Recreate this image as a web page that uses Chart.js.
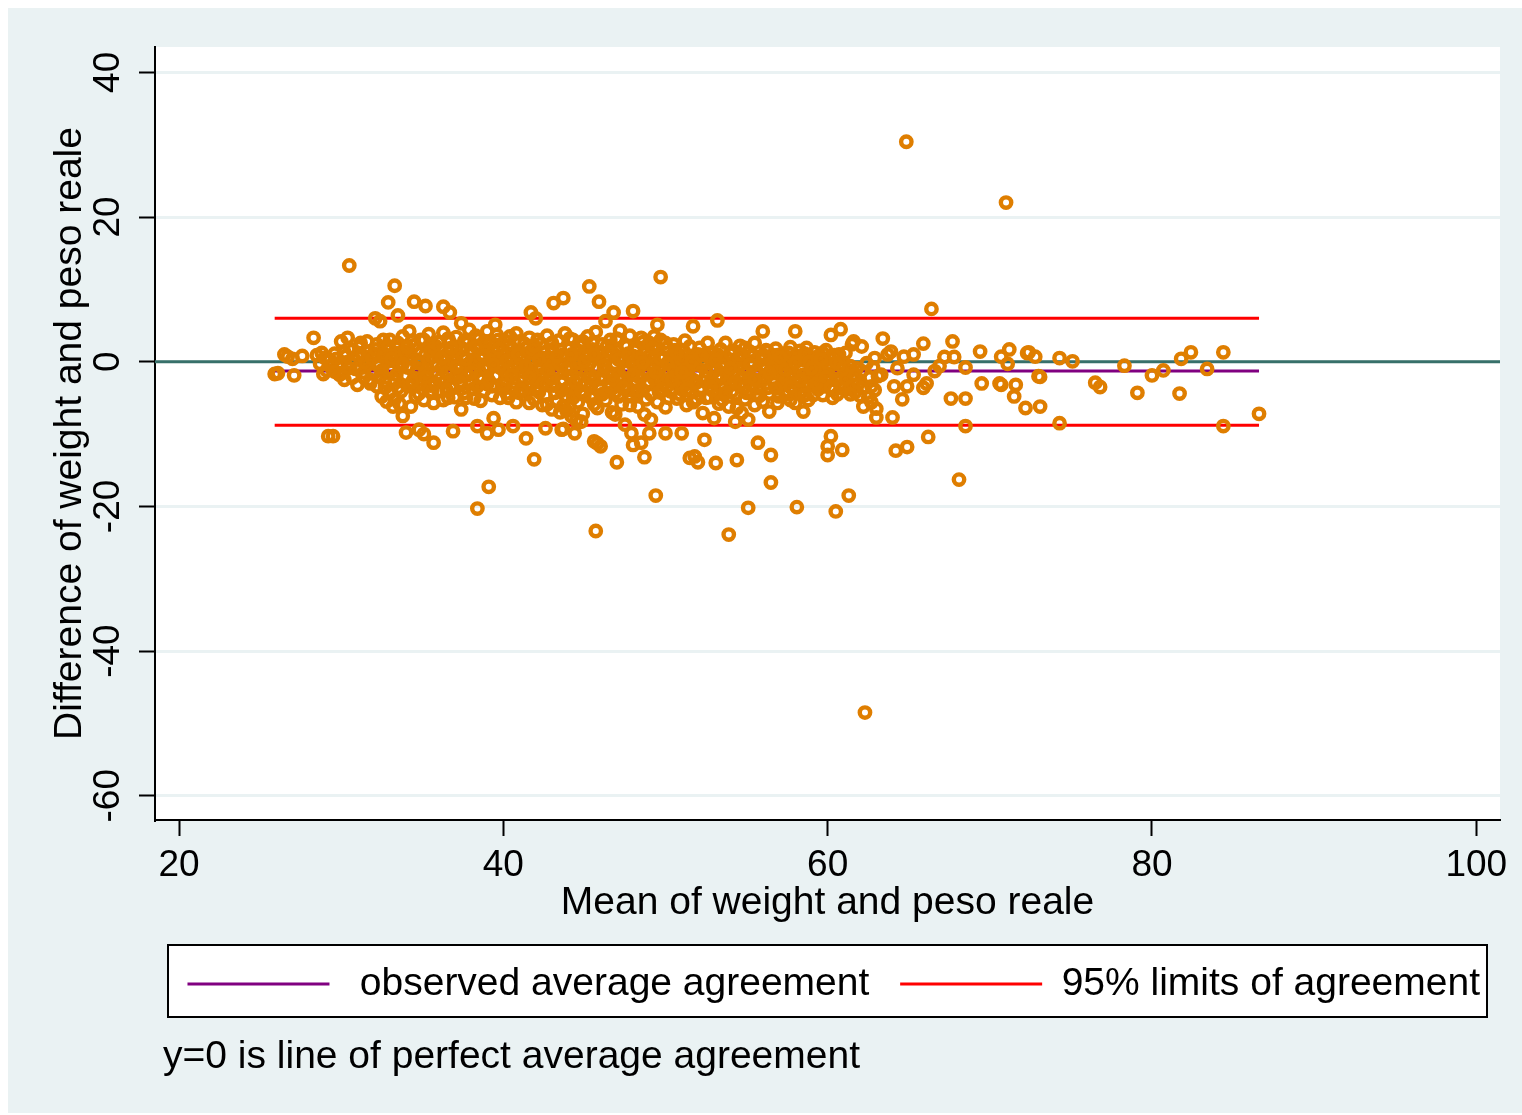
<!DOCTYPE html>
<html>
<head>
<meta charset="utf-8">
<script src="https://cdn.jsdelivr.net/npm/chart.js@4.4.1/dist/chart.umd.min.js"></script>
<style>
  html, body { margin: 0; padding: 0; background: #ffffff; }
  canvas { display: block; }
</style>
</head>
<body>
<canvas id="chartCanvas" width="1522" height="1115"></canvas>
<script>
// Mean of weight and peso reale (x) vs difference (y)
const scatterPoints = [
  // left tail
  [25.9,-1.7],[26.1,-1.6],[26.5,1.0],[26.7,0.7],[27.0,0.4],[27.1,-1.9],[27.6,0.8],[28.3,3.3],[28.5,0.9],[28.7,-0.3],[28.9,-1.7],[29.0,0.5],[28.8,1.2],
  [29.2,-10.3],[29.5,-10.3],[29.1,-1.2],[29.3,0.2],[29.6,1.1],[29.8,-0.6],[30.0,2.8],[30.1,-1.5],[30.2,-2.5],[30.4,3.3],[30.3,0.8],[30.6,-0.2],[30.5,13.3],[30.7,1.6],[30.9,-1.0],[30.8,0.3],
  [29.4,-0.5],[29.7,0.4],[29.9,-1.8],[30.2,1.3],[30.5,-0.9],[30.7,-2.2],[31.0,0.9],[31.2,2.6],[31.4,-1.5],[31.6,0.2],[31.8,-2.5],[32.0,1.1],[32.2,-3.4],[32.5,-1.2],[32.8,0.4],[33.0,-4.3],[31.0,-3.2],[30.0,-0.3],[29.6,-1.4],[32.6,3.0],
  [31.1,2.0],[31.2,-0.8],[31.3,0.9],[31.4,-2.2],[31.6,2.8],[31.5,-0.1],[31.7,1.4],[31.8,-3.0],[31.9,0.4],[32.0,-1.6],[32.1,6.0],[32.4,5.6],[32.2,2.4],[32.3,-0.6],[32.5,-4.8],[32.6,1.2],[32.7,-2.8],[32.8,-5.5],[32.9,8.2],[32.9,0.1],[33.0,3.0],[33.2,-6.2],[33.1,-1.3],
  [33.3,10.5],[33.5,6.4],[33.3,-5.2],[33.4,1.9],[33.5,-3.6],[33.6,-5.8],[33.7,0.5],[33.8,-7.5],[33.8,3.5],[33.9,-2.0],[34.0,-9.8],[34.0,1.1],[34.1,-0.8],[34.2,4.2],[34.3,-6.2],[34.3,-3.1],[34.5,8.3],[34.5,2.3],[34.6,-1.5],[34.7,0.2],[34.8,-9.4],[34.8,-4.4],[34.9,3.0],[35.0,-2.5],
  [35.1,-10.0],[35.1,-5.3],[35.2,7.7],[35.2,1.0],[35.3,-0.5],[35.4,3.8],[35.5,-3.3],[35.6,0.6],[35.7,-11.2],[35.7,-5.7],[35.8,2.2],[35.9,-1.8],[36.0,-4.0],[36.1,1.5],[36.2,-0.9],[36.3,7.6],[36.3,4.0],[36.4,-2.8],[36.5,0.2],[36.6,-5.0],[36.7,6.8],[36.7,2.7],[36.8,-1.2],[36.9,-9.6],[36.9,-3.6],
  [37.0,0.9],[37.1,3.4],[37.2,-2.2],[37.3,-0.4],[37.4,5.3],[37.4,-6.6],[37.5,1.8],[37.6,-4.3],[37.7,-1.5],[37.8,2.6],[37.9,4.4],[37.9,-0.2],[38.0,-3.0],[38.1,1.2],[38.2,-5.1],[38.3,-1.0],[38.4,-8.9],[38.4,-20.3],[38.5,3.1],[38.6,0.4],[38.7,-2.5],[38.8,-4.0],[38.9,1.9],[39.0,4.2],[39.0,-9.9],
  [39.1,-17.3],[39.1,-0.7],[39.2,2.4],[39.3,-3.4],[39.4,-7.8],[39.5,5.1],[39.5,0.6],[39.6,-1.9],[39.7,-9.4],[39.7,3.0],[39.8,-5.0],[39.9,-0.1],[40.0,1.6],[40.1,-2.8],[40.2,-4.4],[40.3,2.2],[40.4,3.5],[40.4,-1.1],[40.5,0.3],[40.6,-8.9],[40.6,-3.7],[40.7,1.3],[40.8,-5.6],[40.9,-0.5],[41.0,2.8],
  [41.1,-2.2],[41.2,0.8],[41.3,-4.1],[41.4,-10.6],[41.4,1.9],[41.5,-1.3],[41.6,3.3],[41.7,6.8],[41.7,-2.9],[41.8,-0.2],[41.9,-13.5],[41.9,-5.2],[42.0,6.0],[42.0,1.2],[42.1,-3.5],[42.2,-0.9],[42.3,2.5],[42.4,-6.0],[42.4,-1.8],[42.5,0.5],[42.6,-9.2],[42.6,-4.6],[42.7,3.6],[42.8,-2.5],[42.9,-0.4],[43.0,1.7],[43.0,-6.6],
  [43.1,8.1],[43.1,-3.3],[43.2,0.2],[43.3,-5.5],[43.4,2.9],[43.4,-1.4],[43.5,-7.0],[43.6,-9.4],[43.6,0.9],[43.7,8.8],[43.7,-9.3],[43.7,-2.6],[43.8,3.9],[43.9,-4.8],[43.9,-6.8],[44.0,-0.7],[44.1,-6.3],[44.1,1.8],[44.2,-2.0],[44.2,-7.5],[44.3,3.0],[44.4,-9.9],[44.4,-3.9],[44.5,0.4],[44.5,-8.1],[44.6,-5.6],[44.7,2.2],[44.8,-1.1],[44.8,-8.3],[44.9,-7.2],[45.0,1.0],
  [45.1,-3.0],[45.2,3.5],[45.3,10.4],[45.3,-0.3],[45.4,-5.0],[45.5,1.7],[45.6,-11.0],[45.8,-11.3],[45.6,-2.2],[45.7,-23.4],[45.7,4.1],[45.8,-6.4],[45.9,8.3],[45.9,0.4],[46.0,-11.7],[46.0,-3.8],[46.1,2.4],[46.2,-1.2],[46.3,5.6],[46.3,-5.3],[46.4,0.9],[46.5,-2.9],[46.6,3.0],[46.7,-7.0],[46.8,6.8],[46.8,-0.6],[46.9,-7.3],[46.9,-4.2],[47.0,-13.9],[47.0,1.6],
  [47.1,-2.1],[47.2,4.3],[47.3,-5.9],[47.4,0.1],[47.5,-8.7],[47.5,2.3],[47.6,-3.3],[47.7,-1.0],[47.8,3.6],[47.9,-9.9],[47.9,-4.8],[48.0,7.0],[48.0,-11.5],[48.0,0.8],[48.1,-2.6],[48.2,2.0],[48.3,-6.2],[48.4,-0.5],[48.5,-11.2],[48.5,3.3],[48.6,-3.9],[48.7,-13.2],[48.7,-7.3],[48.8,1.2],[48.9,-1.7],[49.0,-9.9],[49.0,2.6],
  [49.1,-8.0],[49.1,-4.5],[49.2,0.3],[49.3,-2.4],[49.4,-18.5],[49.4,1.8],[49.5,5.1],[49.5,-5.6],[49.6,-0.9],[49.7,11.7],[49.7,3.0],[49.8,-3.2],[49.9,0.6],[50.0,-9.9],[50.0,-6.3],[50.1,1.9],[50.2,-1.6],[50.3,-4.1],[50.4,0.0],[50.5,2.4],[50.6,-2.8],[50.7,-5.1],[50.8,1.0],[50.9,-0.7],[51.0,-9.9],[51.0,-3.6],
  [51.1,1.5],[51.2,-1.9],[51.3,-6.0],[51.4,-0.3],[51.5,-13.3],[51.5,2.1],[51.6,-4.2],[51.7,4.9],[51.7,-2.5],[51.8,-13.1],[51.8,0.5],[51.9,-5.2],[52.0,-13.9],[52.0,-1.4],[52.1,1.9],[52.2,-3.6],[52.3,-7.1],[52.4,-10.8],[52.4,0.2],[52.5,-2.2],[52.6,2.6],[52.7,-4.9],[52.8,-1.0],[52.9,1.2],[53.0,-7.8],[53.0,-3.0],
  [53.1,-14.0],[53.1,0.6],[53.2,5.7],[53.2,-2.0],[53.3,-5.8],[53.4,1.7],[53.5,-0.8],[53.6,-3.7],[53.7,2.6],[53.8,-1.6],[53.9,-23.9],[53.9,-6.2],[54.0,0.3],[54.1,-2.7],[54.2,1.5],[54.3,-8.3],[54.3,-4.5],[54.4,-13.6],[54.5,-0.6],[54.6,2.2],[54.7,-7.1],[54.7,-2.1],[54.8,0.9],[54.9,-5.2],[55.0,-1.3],[55.1,-8.0],[55.1,-20.2],
  [55.2,1.4],[55.3,-3.2],[55.4,-0.3],[55.5,2.6],[55.6,-4.6],[55.7,-11.2],[55.7,-1.8],[55.8,0.7],[55.9,-2.7],[56.0,4.2],[56.0,-5.5],[56.1,-0.5],[56.2,1.6],[56.3,-3.6],[56.4,-6.9],[56.5,-12.9],[56.5,-16.7],[56.5,-1.2],[56.6,0.9],[56.7,-2.4],[56.8,1.8],[56.9,-5.7],[57.0,-0.2],[57.1,-3.4],
  [57.2,1.1],[57.3,-1.8],[57.4,-4.5],[57.5,0.4],[57.6,-2.9],[57.7,2.0],[57.8,-0.9],[57.9,-3.9],[58.0,4.2],[58.0,-5.7],[58.1,-20.1],[58.1,0.8],[58.2,-2.2],[58.3,1.5],[58.4,-1.1],[58.5,-6.9],[58.5,-3.3],[58.6,0.2],[58.7,1.9],[58.8,-5.3],[58.9,-1.6],[59.0,0.6],[59.1,-2.6],
  [59.2,1.3],[59.3,-0.6],[59.4,-3.8],[59.5,0.9],[59.6,-1.9],[59.7,-4.6],[59.8,0.1],[59.9,1.6],[60.0,-11.7],[60.0,-12.9],[60.0,-2.7],[60.1,-0.8],[60.2,3.7],[60.2,-10.3],[60.3,-3.9],[60.4,0.5],[60.5,-20.7],[60.5,-1.4],[60.6,-4.5],[60.7,1.0],[60.8,4.5],[60.8,-2.2],[60.9,-12.2],[61.0,-0.5],[61.0,-3.1],
  [61.1,1.2],[61.2,-1.7],[61.3,-18.5],[61.3,-3.8],[61.4,-0.6],[61.5,2.4],[61.6,2.8],[61.6,-2.5],[61.7,-4.2],[61.8,-0.9],[61.9,-3.0],[62.0,-4.7],[62.1,2.1],[62.1,-1.3],[62.2,-6.2],[62.2,-3.6],[62.3,-48.5],[62.4,-0.2],[62.5,-4.9],[62.6,-2.2],[62.7,-5.6],[62.8,-0.8],[62.9,-3.9],[63.0,-6.5],
  // right tail
  [64.85,30.4],[71.0,22.0],[66.4,7.3],[68.1,-16.3],
  [63.4,3.2],[67.7,2.8],[67.2,0.65],[67.8,0.65],[68.5,-0.8],[67.6,-5.1],[68.5,-5.1],[68.5,-8.9],[66.2,-10.4],[64.2,-12.3],[64.9,-11.8],[65.9,2.5],[66.6,-1.3],[66.9,-0.6],
  [65.9,-3.6],[66.1,-3.0],[64.6,-5.2],[63.0,-7.7],[64.0,-7.7],[63.7,1.0],[63.9,1.4],[62.9,0.5],[63.3,-1.8],[62.7,-3.4],[63.1,-2.0],[64.3,-0.9],[64.7,0.7],[65.3,1.0],
  [64.1,-3.4],[64.9,-3.4],[65.3,-1.8],[69.4,1.4],[69.5,-3.0],[70.6,-3.0],[70.7,0.7],[71.2,1.7],[71.6,-3.2],[71.5,-4.8],[72.2,-6.4],[72.3,1.2],[72.8,0.7],[73.0,-2.0],
  [73.1,-6.2],[71.1,-0.3],[70.7,-3.2],[72.4,1.3],[73.1,-2.1],[74.3,0.5],[75.1,0.05],[74.3,-8.5],[76.5,-2.9],[76.8,-3.5],[78.3,-0.55],[79.1,-4.3],[80.0,-1.9],
  [80.7,-1.2],[81.8,0.4],[82.4,1.3],[81.7,-4.4],[83.4,-1.0],[84.4,1.3],[84.4,-8.9],[86.6,-7.2]
];

// the solid middle of the cloud
const coreBand = [
  [32.1,1.7],[32.3,-0.2],[32.4,-2.1],[32.6,0.7],[32.7,-3.6],[32.9,2.1],
  [33.0,-1.0],[33.2,0.9],[33.3,-2.6],[33.5,2.6],[33.6,-0.4],[33.7,-4.1],
  [33.9,1.4],[34.0,-1.9],[34.2,-3.4],[34.3,0.5],[34.4,2.9],[34.6,-4.8],
  [34.7,-0.9],[34.9,1.2],[35.0,-3.1],[35.1,3.0],[35.3,-1.6],[35.4,0.3],
  [35.6,-4.1],[35.7,1.9],[35.9,-0.3],[36.0,2.7],[36.1,-2.4],[36.3,-5.3],
  [36.4,0.8],[36.5,-1.5],[36.6,3.2],[36.8,-3.3],[36.9,0.1],[37.0,-4.9],
  [37.1,2.0],[37.2,-1.0],[37.4,-3.2],[37.5,0.7],[37.6,2.9],[37.7,-5.0],
  [37.8,-1.9],[38.0,1.7],[38.1,-3.8],[38.2,0.0],[38.3,3.6],[38.5,-2.2],
  [38.6,-5.4],[38.7,1.0],[38.8,-0.9],[38.9,2.8],[39.0,-3.1],[39.2,0.2],
  [39.3,-4.6],[39.4,1.5],[39.5,-2.0],[39.6,3.7],[39.8,-0.8],[39.9,-3.7],
  [40.0,0.9],[40.1,2.9],[40.2,-1.6],[40.3,-5.0],[40.5,1.8],[40.6,-0.6],
  [40.7,-2.9],[40.8,3.9],[41.0,-4.3],[41.1,0.4],[41.2,-1.4],[41.3,2.5],
  [41.5,-3.6],[41.6,-5.7],[41.7,0.0],[41.8,1.7],[42.0,-2.4],[42.1,3.0],
  [42.2,-4.2],[42.3,-0.6],[42.5,1.3],[42.6,-3.1],[42.7,-5.9],[42.8,0.6],
  [43.0,2.6],[43.1,-1.5],[43.2,-4.3],[43.4,-0.2],[43.5,1.6],[43.6,-2.9],
  [43.7,-6.1],[43.8,0.8],[44.0,-3.6],[44.1,3.2],[44.2,-1.0],[44.3,-5.0],
  [44.5,1.4],[44.6,-2.3],[44.7,-0.2],[44.9,2.8],[45.0,-4.6],[45.1,-1.6],
  [45.2,0.6],[45.4,-3.2],[45.5,2.6],[45.6,-5.9],[45.8,-0.8],[45.9,1.3],
  [46.0,-2.4],[46.1,-4.5],[46.3,0.2],[46.4,2.2],[46.5,-1.7],[46.6,-3.5],
  [46.7,1.4],[46.9,-0.3],[47.0,3.2],[47.1,-4.8],[47.2,-2.6],[47.3,0.7],
  [47.5,-1.3],[47.6,2.1],[47.7,-3.9],[47.8,-6.0],[48.0,-0.3],[48.1,1.5],
  [48.2,-4.4],[48.3,-2.0],[48.5,0.5],[48.6,2.7],[48.7,-1.1],[48.8,-5.2],
  [49.0,-3.0],[49.1,1.1],[49.2,-0.6],[49.3,3.5],[49.5,-2.0],[49.6,-4.2],
  [49.7,0.4],[49.9,-1.2],[50.0,2.6],[50.1,-3.4],[50.2,-5.0],[50.4,0.9],
  [50.5,-0.9],[50.6,1.6],[50.8,-2.3],[50.9,-4.5],[51.0,0.2],[51.2,2.9],
  [51.3,-1.0],[51.4,-3.0],[51.6,0.8],[51.7,-5.6],[51.9,-1.8],[52.0,1.0],
  [52.1,-3.9],[52.3,-0.4],[52.5,-5.0],[52.6,0.7],[52.8,-2.8],[52.9,-4.0],
  [53.1,-1.2],[53.2,1.0],[53.4,-3.4],[53.5,-5.3],[53.7,-0.3],[53.8,-2.4],
  [54.0,1.1],[54.1,-4.1],[54.2,-1.6],[54.4,-6.4],[54.5,0.4],[54.6,-3.0],
  [54.8,-1.0],[54.9,1.9],[55.0,-4.3],[55.2,-2.4],[55.4,0.8],[55.5,-6.0],
  [55.6,-1.2],[55.8,-3.7],[56.0,0.3],[56.1,-2.0],[56.3,1.4],[56.4,-4.4],
  [56.6,-0.7],[56.7,-3.0],[56.9,0.9],[57.0,-4.8],[57.1,-1.4],[57.3,0.3],
  [57.4,-2.6],[57.6,1.2],[57.7,-5.3],[57.8,-0.6],[58.0,-2.9],[58.2,0.5],
  [58.3,-4.1],[58.5,-1.8],[58.6,1.1],[58.8,-2.9],[58.9,0.0],[59.1,-4.6],
  [59.2,-1.4],[59.4,0.4],[59.5,-2.6],[59.7,1.2],[59.8,-3.4],[60.0,-0.3],
  [60.1,-1.9],[60.3,-5.0],[60.4,0.9],[60.6,-2.6],[60.7,-0.4],
  [33.1,0.4],[33.4,-1.8],[33.8,-0.3],[34.1,2.0],[34.4,-2.7],[34.8,-0.2],
  [35.2,-2.2],[35.5,1.4],[35.8,-3.0],[36.2,0.5],[36.5,-3.9],[36.8,1.9],
  [37.1,-0.7],[37.3,-2.8],[37.7,0.3],[38.0,-1.5],[38.3,2.1],[38.4,-3.4],
  [38.8,0.8],[39.1,-2.6],[39.4,-0.4],[39.7,1.8],[40.0,-3.2],[40.2,0.1],
  [40.5,-1.9],[40.9,1.0],[41.1,-3.9],[41.4,-0.6],[41.6,-2.2],[41.9,2.2],
  [42.2,0.2],[42.4,-3.0],[42.7,-1.2],[43.0,-2.3],[43.3,0.8],[43.6,-4.0],
  [43.9,-1.0],[44.2,1.0],[44.4,-2.8],[44.8,-4.1],[45.0,0.0],[45.3,-2.3],
  [45.6,1.0],[45.9,-3.4],[46.2,-0.6],[46.5,1.4],[46.8,-2.5],[47.1,0.3],
  [47.4,-3.6],[47.7,1.1],[48.0,-1.8],[48.3,-4.0],[48.6,-0.1],[48.9,-2.8],
  [49.2,1.9],[49.4,-1.5],[49.8,-3.8],[50.1,-0.2],[50.4,-2.6],[50.7,1.2],
  [51.0,-1.5],[51.3,-3.8],[51.6,0.0],[51.9,-2.9],[52.2,0.9],[52.5,-1.4],
  [52.8,-3.5],[53.1,0.2],[53.4,-2.0],[53.7,-4.3],[54.0,-0.9],[54.3,-2.8],
  [54.6,1.0],[54.9,-3.5],[55.2,-0.4],[55.5,-2.5],[55.8,-4.7],[56.1,0.8],
  [56.4,-1.5],[56.8,-3.7],[57.1,0.6],[57.4,-1.1],[57.7,-3.5],[58.0,-0.1],
  [58.3,-2.6],[58.6,-4.6],[59.0,-0.9],[59.3,-3.0],[59.6,0.3],[59.9,-2.1],
  [60.2,-3.5],[60.5,-0.1],[60.8,-3.6],[61.1,-2.4],[61.4,-4.5],[61.7,-1.8]
];

// agreement statistics
const meanDiff = -1.3;
const upperLimit = 6.0;
const lowerLimit = -8.8;

const xTicks = [20, 40, 60, 80, 100];
const yTicks = [-60, -40, -20, 0, 20, 40];
const xRange = [18.52, 101.46];
const yRange = [-63.35, 43.5];

const legendLabels = ['observed average agreement', '95% limits of agreement'];
const noteText = 'y=0 is line of perfect average agreement';

const ORANGE = '#df7e00';
const PURPLE = '#800080';
const RED = '#ff0000';
const TEAL = '#38706a';
const BG = '#eaf2f3';
const FONT = '"Liberation Sans", Arial, Helvetica, sans-serif';

Chart.defaults.font.family = FONT;
Chart.defaults.color = '#000000';

const allPoints = scatterPoints.concat(coreBand);
const means = allPoints.map(p => p[0]);
const xMin = Math.min(...means);
const xMax = Math.max(...means);

function hLine(y, x0, x1) {
    return [{ x: x0, y: y }, { x: x1, y: y }];
}

// background, legend frame and footnote
const stataFrame = {
    id: 'stataFrame',
    beforeDraw(chart) {
        const { ctx, chartArea: a } = chart;
        ctx.save();
        ctx.fillStyle = '#ffffff';
        ctx.fillRect(0, 0, chart.width, chart.height);
        ctx.fillStyle = BG;
        ctx.fillRect(8, 8, chart.width - 8, chart.height - 10);
        ctx.fillStyle = '#ffffff';
        ctx.fillRect(a.left, a.top, a.right - a.left, a.bottom - a.top);

        const boxes = chart.legend.legendHitBoxes;
        if (boxes && boxes.length) {
            const first = boxes[0];
            const cy = first.top + first.height / 2;
            const x0 = a.left + 13;
            const x1 = a.right - 13;
            ctx.fillStyle = '#ffffff';
            ctx.fillRect(x0, cy - 39, x1 - x0, 72);
            ctx.strokeStyle = '#000000';
            ctx.lineWidth = 2;
            ctx.strokeRect(x0, cy - 39, x1 - x0, 72);

            ctx.fillStyle = '#000000';
            ctx.font = '39px ' + FONT;
            ctx.textBaseline = 'alphabetic';
            ctx.textAlign = 'left';
            ctx.fillText(noteText, a.left + 8, cy + 84);
        }
        ctx.restore();
    }
};

const ctx = document.getElementById('chartCanvas').getContext('2d');

new Chart(ctx, {
    type: 'scatter',
    data: {
        datasets: [
            {
                label: 'data',
                data: allPoints.map(p => ({ x: p[0], y: p[1] })),
                pointStyle: 'circle',
                pointRadius: 5.2,
                pointBorderWidth: 4.4,
                pointBorderColor: ORANGE,
                pointBackgroundColor: 'rgba(0,0,0,0)',
                order: 0,
                inLegend: false
            },
            {
                type: 'line',
                label: ' ' + legendLabels[0] + ' ',
                data: hLine(meanDiff, xMin, xMax),
                borderColor: PURPLE,
                backgroundColor: PURPLE,
                borderWidth: 3,
                pointRadius: 0,
                fill: false,
                order: 2
            },
            {
                type: 'line',
                label: legendLabels[1],
                data: hLine(upperLimit, xMin, xMax),
                borderColor: RED,
                backgroundColor: RED,
                borderWidth: 3,
                pointRadius: 0,
                fill: false,
                order: 3
            },
            {
                type: 'line',
                label: 'lower limit',
                data: hLine(lowerLimit, xMin, xMax),
                borderColor: RED,
                backgroundColor: RED,
                borderWidth: 3,
                pointRadius: 0,
                fill: false,
                order: 4,
                inLegend: false
            },
            {
                type: 'line',
                label: 'zero',
                data: hLine(0, xRange[0], xRange[1]),
                borderColor: TEAL,
                backgroundColor: TEAL,
                borderWidth: 3,
                pointRadius: 0,
                fill: false,
                order: 5,
                inLegend: false
            }
        ]
    },
    options: {
        responsive: false,
        animation: false,
        devicePixelRatio: 1,
        layout: {
            padding: { top: 47, right: 22, left: 47, bottom: 101.5 }
        },
        plugins: {
            tooltip: { enabled: false },
            legend: {
                display: true,
                position: 'bottom',
                align: 'end',
                labels: {
                    font: { size: 39 },
                    color: '#000000',
                    boxWidth: 142,
                    boxHeight: 3,
                    padding: 20,
                    filter: (item, data) => data.datasets[item.datasetIndex].inLegend !== false,
                    generateLabels: function(chart) {
                        const items = Chart.defaults.plugins.legend.labels.generateLabels(chart);
                        items.forEach(it => {
                            it.fillStyle = it.strokeStyle;
                            it.lineWidth = 0;
                        });
                        return items;
                    }
                }
            }
        },
        scales: {
            x: {
                type: 'linear',
                min: xRange[0],
                max: xRange[1],
                afterBuildTicks: scale => { scale.ticks = xTicks.map(v => ({ value: v })); },
                afterFit: scale => { scale.height = 124.5; },
                border: { display: true, color: '#000000', width: 2 },
                grid: {
                    display: true,
                    drawOnChartArea: false,
                    drawTicks: true,
                    tickLength: 16,
                    tickColor: '#000000',
                    tickWidth: 2
                },
                ticks: {
                    font: { size: 37 },
                    color: '#000000',
                    padding: 8,
                    maxRotation: 0,
                    autoSkip: false
                },
                title: {
                    display: true,
                    text: 'Mean of weight and peso reale',
                    font: { size: 39 },
                    color: '#000000',
                    padding: { top: 0, bottom: 18 }
                }
            },
            y: {
                type: 'linear',
                min: yRange[0],
                max: yRange[1],
                afterBuildTicks: scale => { scale.ticks = yTicks.map(v => ({ value: v })); },
                afterFit: scale => { scale.width = 155 - 47; },
                border: { display: true, color: '#000000', width: 2 },
                grid: {
                    display: true,
                    drawOnChartArea: true,
                    color: BG,
                    lineWidth: 3,
                    drawTicks: true,
                    tickLength: 16,
                    tickColor: '#000000',
                    tickWidth: 2
                },
                ticks: {
                    font: { size: 37 },
                    color: '#000000',
                    padding: 3,
                    minRotation: 90,
                    maxRotation: 90,
                    crossAlign: 'center',
                    autoSkip: false
                },
                title: {
                    display: true,
                    text: 'Difference of weight and peso reale',
                    font: { size: 39 },
                    color: '#000000',
                    padding: { top: 0, bottom: 0 }
                }
            }
        }
    },
    plugins: [stataFrame]
});
</script>
</body>
</html>
